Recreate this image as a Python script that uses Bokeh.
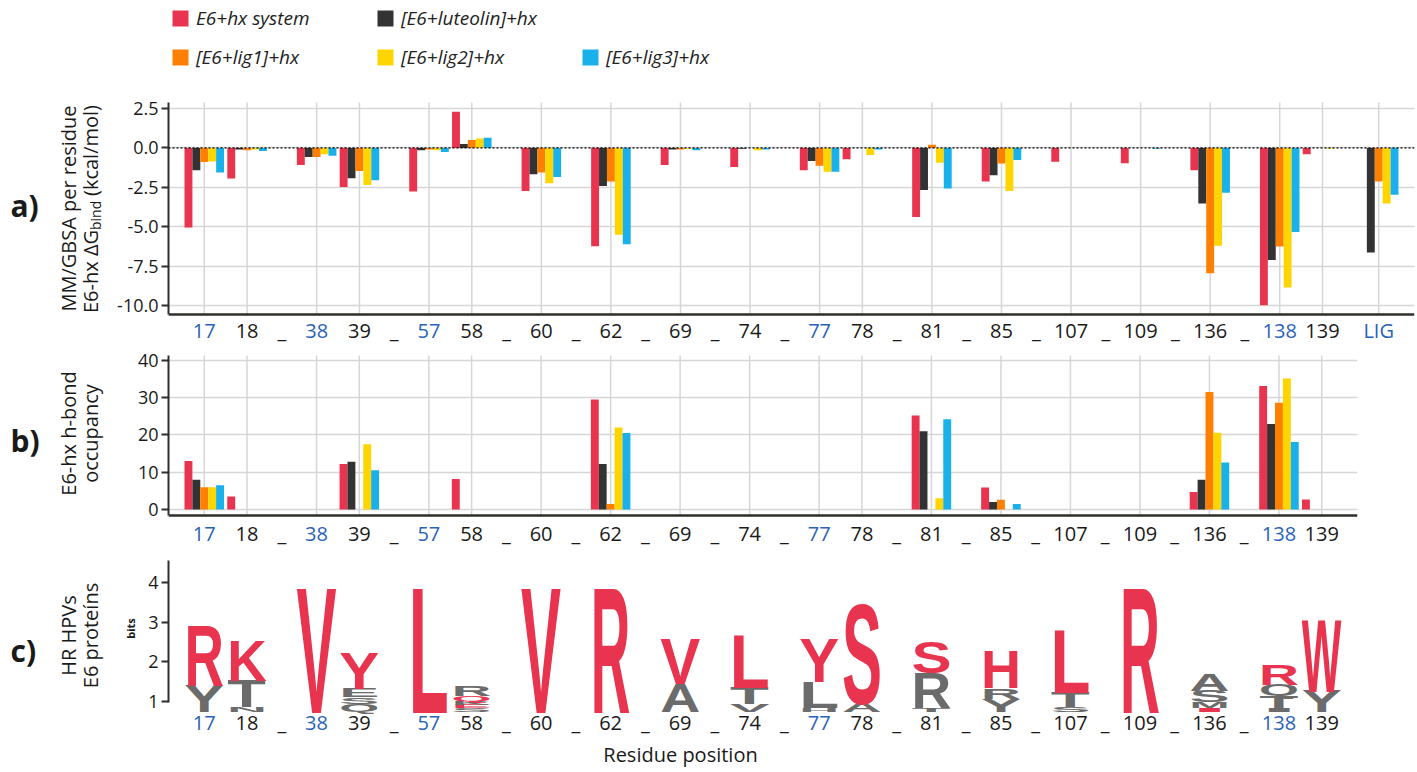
from bokeh.plotting import figure
from bokeh.models import (FactorRange, Range1d, LabelSet, Label, Span, Legend, LegendItem,
                          FixedTicker, PrintfTickFormatter, ColumnDataSource, CustomJS)
from bokeh.transform import dodge
from bokeh.layouts import column, row
from bokeh.document import Document
from bokeh.core.properties import value
from bokeh.embed import file_html
from bokeh.resources import INLINE

# ------------------------------------------------------------------ data
residue_groups = [["17", "18"], ["38", "39"], ["57", "58"], ["60"], ["62"], ["69"], ["74"],
                  ["77", "78"], ["81"], ["85"], ["107"], ["109"], ["136"], ["138", "139"]]
ligand = "LIG"
key_residues = ["17", "38", "57", "77", "138", "LIG"]
residues = [r for g in residue_groups for r in g]
residues_a = residues + [ligand]

series_names = ["E6+hx system", "[E6+luteolin]+hx", "[E6+lig1]+hx", "[E6+lig2]+hx", "[E6+lig3]+hx"]

# a) MM/GBSA per-residue dG (kcal/mol), order = residues_a
dg_hx   = [-5.04, -1.94, -1.08, -2.47, -2.76, 2.30, -2.72, -6.22, -1.08, -1.20, -1.41, -0.72, -4.37, -2.13, -0.87, -0.97, -1.41, -9.96, -0.40, 0.00]
dg_lut  = [-1.41, -0.10, -0.57, -1.92, -0.15, 0.25, -1.67, -2.41, -0.10, -0.05, -0.82, 0.00, -2.66, -1.73, 0.00, 0.00, -3.52, -7.09, 0.00, -6.62]
dg_lig1 = [-0.89, -0.15, -0.57, -1.46, -0.10, 0.50, -1.56, -2.13, -0.10, 0.00, -1.12, 0.00, 0.20, -0.99, 0.00, 0.00, -7.93, -6.24, 0.00, -2.13]
dg_lig2 = [-0.85, -0.10, -0.40, -2.34, -0.15, 0.60, -2.24, -5.50, -0.05, -0.15, -1.50, -0.44, -0.93, -2.72, 0.00, 0.00, -6.20, -8.84, -0.05, -3.52]
dg_lig3 = [-1.56, -0.20, -0.50, -2.05, -0.25, 0.65, -1.84, -6.10, -0.15, -0.10, -1.50, -0.10, -2.57, -0.76, 0.00, -0.05, -2.83, -5.32, 0.00, -2.97]

# b) h-bond occupancy (%), order = residues
hb_hx   = [13.0, 3.5, 0, 12.2, 0, 8.2, 0, 29.5, 0, 0, 0, 0, 25.2, 5.9, 0, 0, 4.7, 33.1, 2.7]
hb_lut  = [8.0, 0, 0, 12.8, 0, 0, 0, 12.2, 0, 0, 0, 0, 21.0, 2.0, 0, 0, 8.0, 22.9, 0]
hb_lig1 = [6.0, 0, 0, 0, 0, 0, 0, 1.5, 0, 0, 0, 0, 0, 2.6, 0, 0, 31.5, 28.6, 0]
hb_lig2 = [6.0, 0, 0, 17.5, 0, 0, 0, 22.0, 0, 0, 0, 0, 3.0, 0, 0, 0, 20.6, 35.1, 0]
hb_lig3 = [6.5, 0, 0, 10.5, 0, 0, 0, 20.5, 0, 0, 0, 0, 24.2, 1.5, 0, 0, 12.6, 18.1, 0]

# c) sequence logo (bottom -> top within each residue), information in bits
logo_residue = ["17", "17", "18", "18", "18", "38", "39", "39", "39", "39", "57",
                "58", "58", "58", "58", "58", "60", "62", "69", "69", "74", "74", "74",
                "77", "77", "77", "78", "78", "81", "81", "81", "85", "85", "85",
                "107", "107", "107", "109", "136", "136", "136", "136",
                "138", "138", "138", "138", "139", "139"]
logo_letter = ["Y", "R", "N", "T", "K", "V", "Q", "S", "E", "Y", "L",
               "S", "E", "K", "Q", "R", "V", "R", "A", "V", "V", "T", "L",
               "H", "L", "Y", "A", "S", "T", "R", "S", "Y", "R", "H",
               "S", "T", "L", "R", "I", "M", "S", "A",
               "I", "T", "Q", "R", "Y", "W"]
logo_bits = [0.66, 1.51, 0.12, 0.67, 0.99, 3.14, 0.20, 0.16, 0.21, 0.91, 3.14,
             0.08, 0.08, 0.10, 0.14, 0.25, 3.14, 3.14, 0.70, 1.12, 0.20, 0.42, 1.33,
             0.10, 0.65, 1.09, 0.23, 2.50, 0.10, 0.88, 0.76, 0.33, 0.27, 0.92,
             0.13, 0.37, 1.59, 3.14, 0.10, 0.15, 0.29, 0.41,
             0.08, 0.33, 0.29, 0.50, 0.55, 1.81]
logo_major = [0, 1, 0, 0, 1, 1, 0, 0, 0, 1, 1,
              0, 1, 0, 1, 0, 1, 1, 0, 1, 0, 0, 1,
              0, 0, 1, 0, 1, 0, 0, 1, 0, 0, 1,
              0, 0, 1, 1, 1, 0, 0, 0,
              0, 0, 0, 1, 0, 1]
logo_base = 1.0

# ------------------------------------------------------------------ style
FONT = "Open Sans"
LOGO_FONT = "Liberation Sans"
COLORS = ["#E8344E", "#333333", "#FF7F00", "#FFD500", "#1AB1EA"]
RED, GREY = "#E8344E", "#6B6B6B"
BLUE, BLACK = "#2A62B8", "#1A1A1A"
GRID = "#D6D6D6"
AXIS = "#2E2E2A"
PPU = 43.3
SUB_PAD, GRP_PAD, RNG_PAD = 0.625, 0.313, 0.336
TOTAL_W = 1415
BAR_W = 8.0 / PPU
LETTER_W = 40.0
FS0 = 30.0


def build_factors(with_lig):
    f = []
    for i, g in enumerate(residue_groups):
        for r in g:
            f.append(("A", "s%d" % i, r))
    if with_lig:
        f.append(("B", "sL", ligand))
    return f


fac_a = build_factors(True)
fac_bc = build_factors(False)
fmap = {t[2]: t for t in fac_a}


def frange(factors):
    return FactorRange(factors=factors, factor_padding=0.0, subgroup_padding=SUB_PAD,
                       group_padding=GRP_PAD, range_padding=RNG_PAD, range_padding_units="absolute")


def span_len(factors):
    subs = len({(t[0], t[1]) for t in factors})
    tops = len({t[0] for t in factors})
    return len(factors) + (subs - tops) * SUB_PAD + (tops - 1) * GRP_PAD + RNG_PAD


def ext_range(lo, hi, h, top_px, bot_px):
    k = (h - top_px - bot_px) / (hi - lo)
    return Range1d(lo - bot_px / k, hi + top_px / k)


def panel_fig(xr, lo, hi, fw, h, top_px, bot_px, left, title_w, ticks, grid=True):
    p = figure(x_range=xr, y_range=ext_range(lo, hi, h, top_px, bot_px),
               frame_width=fw, frame_height=h,
               min_border_left=left, min_border_right=TOTAL_W - title_w - left - fw,
               min_border_top=0, min_border_bottom=0,
               output_backend="svg", toolbar_location=None, tools="")
    p.outline_line_color = None
    p.xaxis.visible = False
    p.xgrid.grid_line_color = None
    ax = p.yaxis[0]
    ax.bounds = (lo, hi)
    ax.ticker = FixedTicker(ticks=ticks)
    ax.axis_line_color = AXIS
    ax.axis_line_width = 2
    ax.major_tick_line_color = AXIS
    ax.major_tick_line_width = 2
    ax.major_tick_out = 7
    ax.major_tick_in = 0
    ax.minor_tick_line_color = None
    ax.major_label_text_font = FONT
    ax.major_label_text_font_size = "18px"
    ax.major_label_text_color = BLACK
    ax.major_label_standoff = 3
    if grid:
        p.ygrid.grid_line_color = GRID
        p.ygrid.grid_line_width = 1.5
        p.ygrid.ticker = FixedTicker(ticks=ticks)
        res = [t[2] for t in xr.factors]
        gsrc = ColumnDataSource(dict(x=[fmap[r] for r in res]))
        p.segment(x0="x", x1="x", y0=lo, y1=hi, source=gsrc, line_color=GRID, line_width=1.5)
    else:
        p.ygrid.grid_line_color = None
    return p


def title_fig(w, h):
    p = figure(x_range=Range1d(0, w), y_range=Range1d(0, h), frame_width=w, frame_height=h,
               min_border=0, output_backend="svg", toolbar_location=None, tools="")
    p.axis.visible = False
    p.grid.visible = False
    p.outline_line_color = None
    return p


def add_xlabels(p, xr, res, y_scr):
    src = ColumnDataSource(dict(x=[fmap[r] for r in res], t=res,
                                c=[BLUE if r in key_residues else BLACK for r in res]))
    p.add_layout(LabelSet(x="x", y=y_scr, y_units="screen", text="t", text_color="c", source=src,
                          text_align="center", text_baseline="middle",
                          text_font=value(FONT), text_font_size="20px"))
    gaps = [fmap[g[-1]] for g in residue_groups[:-1]]
    src2 = ColumnDataSource(dict(x=gaps, t=["_"] * len(gaps)))
    p.add_layout(LabelSet(x=dodge("x", (1 + SUB_PAD) / 2, range=xr), y=y_scr, y_units="screen",
                          text="t", source=src2, text_color=BLACK,
                          text_align="center", text_baseline="middle",
                          text_font=value(FONT), text_font_size="20px"))


def lab(p, text, x, y, size="20px", style="normal", align="center", angle=90,
        units="data"):
    p.add_layout(Label(x=x, y=y, x_units=units, y_units=units, text=text, angle=angle,
                       angle_units="deg", text_align=align, text_baseline="middle",
                       text_font=FONT, text_font_size=size, text_font_style=style,
                       text_color=BLACK))


offsets = [(k - 2) * BAR_W for k in range(5)]

# ------------------------------------------------------------------ panel a
TW_AB = 108
xr_a = frange(fac_a)
fw_a = int(round(span_len(fac_a) * PPU))
h_a = 346
pa = panel_fig(xr_a, -10.55, 2.88, fw_a, h_a, 102, 32, 60, TW_AB, [-10, -7.5, -5, -2.5, 0, 2.5])
pa.yaxis[0].formatter = PrintfTickFormatter(format="%.1f")
src_a = ColumnDataSource(dict(x=[fmap[r] for r in residues_a], s0=dg_hx, s1=dg_lut,
                              s2=dg_lig1, s3=dg_lig2, s4=dg_lig3))
rs = []
for k in range(5):
    rs.append(pa.vbar(x=dodge("x", offsets[k], range=xr_a), top="s%d" % k, width=BAR_W,
                      source=src_a, fill_color=COLORS[k], line_color=None))
pa.add_layout(Span(location=0, dimension="width", line_color="black", line_width=1.2, line_dash="2 2"))
pa.add_layout(Span(location=-10.55, dimension="width", line_color=AXIS, line_width=2.5))
add_xlabels(pa, xr_a, residues_a, 16)

leg_kw = dict(orientation="horizontal", glyph_width=20, glyph_height=20, label_standoff=6,
              label_width=170, label_height=20, spacing=9, padding=0, margin=0,
              border_line_color=None, background_fill_alpha=0, label_text_font=FONT,
              label_text_font_size="19px", label_text_font_style="italic",
              label_text_color="#222222")
pa.add_layout(Legend(items=[LegendItem(label=series_names[i], renderers=[rs[i]]) for i in (0, 1)],
                     location=(2, 315), **leg_kw))
pa.add_layout(Legend(items=[LegendItem(label=series_names[i], renderers=[rs[i]]) for i in (2, 3, 4)],
                     location=(2, 276), **leg_kw))

ta = title_fig(TW_AB, h_a)
lab(ta, "MM/GBSA per residue", 68, 138)
w1, w2, w3 = 83, 29, 92
y0 = 138 - (w1 + w2 + 5 + w3) / 2
lab(ta, "E6-hx \u0394G", 90, y0, align="left")
lab(ta, "bind", 95, y0 + w1, size="14px", align="left")
lab(ta, "(kcal/mol)", 90, y0 + w1 + w2 + 5, align="left")
lab(ta, "a)", 10, 141, size="30px", style="bold", align="left", angle=0)

# ------------------------------------------------------------------ panel b
xr_b = frange(fac_bc)
fw_bc = int(round(span_len(fac_bc) * PPU))
h_b = 204
pb = panel_fig(xr_b, -1.6, 41.3, fw_bc, h_b, 9, 35, 60, TW_AB, [0, 10, 20, 30, 40])
src_b = ColumnDataSource(dict(x=[fmap[r] for r in residues], s0=hb_hx, s1=hb_lut,
                              s2=hb_lig1, s3=hb_lig2, s4=hb_lig3))
for k in range(5):
    pb.vbar(x=dodge("x", offsets[k], range=xr_b), top="s%d" % k, width=BAR_W,
            source=src_b, fill_color=COLORS[k], line_color=None)
pb.add_layout(Span(location=-1.6, dimension="width", line_color=AXIS, line_width=2.5))
add_xlabels(pb, xr_b, residues, 17)

tb = title_fig(TW_AB, h_b)
lab(tb, "E6-hx h-bond", 68, 117)
lab(tb, "occupancy", 90, 117)
lab(tb, "b)", 10, 110, size="30px", style="bold", align="left", angle=0)

# ------------------------------------------------------------------ panel c
TW_C = 140
xr_c = frange(fac_bc)
h_c = 220
yc0, yc1 = 0.97, 4.56
pc = panel_fig(xr_c, yc0, yc1, fw_bc, h_c, 10, 68, 28, TW_C, [1, 2, 3, 4], grid=False)
bottoms = []
acc = {}
for r, b in zip(logo_residue, logo_bits):
    start = acc.get(r, logo_base)
    bottoms.append(start)
    acc[r] = start + b
src_c = ColumnDataSource(dict(x=[fmap[r] for r in logo_residue], y=bottoms, t=logo_letter,
                              c=[RED if m else GREY for m in logo_major],
                              fs=["%.2fpx" % (FS0 + 0.01 * i) for i in range(len(logo_letter))]))
pc.text(x="x", y="y", text="t", source=src_c, text_color="c", text_font=value(LOGO_FONT),
        text_font_style="bold", text_font_size="fs", text_align="center",
        text_baseline="alphabetic")
add_xlabels(pc, xr_c, residues, 48)
lab(pc, "Residue position", 512, 16, units="screen", angle=0)

tc = title_fig(TW_C, h_c)
lab(tc, "HR HPVs", 68, 135)
lab(tc, "E6 prote\u00edns", 90, 135)
lab(tc, "bits", 130, 142, size="11px", style="bold")
lab(tc, "c)", 10, 120, size="30px", style="bold", align="left", angle=0)

ppb = (h_c - 10 - 68) / (yc1 - yc0)
targets = [b * ppb for b in logo_bits]

JS = """
const ASC = 0.905 / 1.117, CAP = 0.688;
function collect(root, out) {
  const all = root.querySelectorAll("*");
  for (const el of all) {
    if (el.shadowRoot) collect(el.shadowRoot, out);
    if (el.tagName && el.tagName.toLowerCase() === "text") {
      let ff = el.getAttribute("font-family") || "";
      try { ff += " " + window.getComputedStyle(el).fontFamily; } catch (e) {}
      if (ff.indexOf("Liberation") >= 0) out.push(el);
    }
  }
}
function fix() {
  const out = [];
  collect(document, out);
  for (const el of out) {
    if (el.getAttribute("data-logo")) continue;
    let fs = parseFloat(el.getAttribute("font-size"));
    if (!(fs > 0)) fs = parseFloat(window.getComputedStyle(el).fontSize);
    const i = Math.round((fs - FS0) * 100);
    if (!(i >= 0 && i < targets.length)) continue;
    const bb = el.getBBox();
    if (!(bb.width > 0)) continue;
    const cx = bb.x + bb.width / 2;
    const yb = bb.y + bb.height * ASC;
    const sx = W / bb.width;
    const sy = targets[i] / (CAP * fs);
    const t0 = el.getAttribute("transform") || "";
    el.setAttribute("transform", t0 + " translate(" + cx + "," + yb + ") scale(" + sx + "," + sy +
                    ") translate(" + (-cx) + "," + (-yb) + ")");
    el.setAttribute("data-logo", "1");
  }
}
fix();
setInterval(fix, 100);
"""

layout = column(row(ta, pa, spacing=0), row(tb, pb, spacing=0), row(tc, pc, spacing=0), spacing=0)
doc = Document()
doc.add_root(layout)
doc.js_on_event("document_ready", CustomJS(args=dict(targets=targets, W=LETTER_W, FS0=FS0), code=JS))

open("out.html", "w").write(file_html(layout, INLINE))
